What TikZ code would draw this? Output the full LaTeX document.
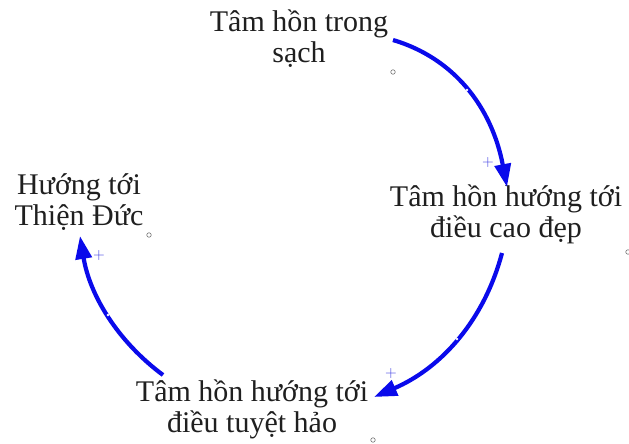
\documentclass[tikz,border=0pt]{standalone}
\usepackage{fontspec}
\setmainfont{Liberation Serif}
\usetikzlibrary{arrows.meta}
\definecolor{loopblue}{RGB}{10,10,235}
\definecolor{plusblue}{RGB}{60,60,225}
\begin{document}
\begin{tikzpicture}[x=1pt,y=-1pt,
  lbl/.style={align=center,anchor=base,inner sep=0pt,font=\fontsize{30}{31}\selectfont,text=black!88},
  link/.style={draw=loopblue,line width=4.2pt,-{Triangle[length=23pt,width=16pt]}},
  pol/.style={text=plusblue,font=\fontsize{16}{16}\selectfont\sffamily,inner sep=0pt},
  handle/.style={circle,draw=black!55,fill=white,line width=0.6pt,inner sep=0pt,minimum size=4.5pt},
  mid/.style={circle,fill=white,inner sep=0pt,minimum size=2.6pt}]
\useasboundingbox (0,0) rectangle (629,444);
\node[lbl] (A) at (299,63) {Tâm hồn trong\\sạch};
\node[lbl] (B) at (506,237) {Tâm hồn hướng tới\\điều cao đẹp};
\node[lbl] (C) at (79,225) {Hướng tới\\Thiện Đức};
\node[lbl] (D) at (252,432) {Tâm hồn hướng tới\\điều tuyệt hảo};
\coordinate (a0) at (393,40);
\coordinate (a1) at (507,187);
\coordinate (b0) at (502,253);
\coordinate (b1) at (374,397);
\coordinate (c0) at (163,375);
\coordinate (c1) at (80,236);
\draw[link] (a0) .. controls (453.7,58) and (491.7,106.7) .. (a1);
\draw[link] (b0) .. controls (484.3,319.7) and (442,367.7) .. (b1);
\draw[link] (c0) .. controls (117.3,341) and (89.7,295) .. (c1);
\node[mid] (m1) at (467,90) {};
\node[mid] (m2) at (457,339) {};
\node[mid] (m3) at (108,315) {};
\node[pol] (p1) at (488,163) {+};
\node[pol] (p2) at (391,374) {+};
\node[pol] (p3) at (99,256) {+};
\node[handle] (h1) at (393,72) {};
\node[handle] (h2) at (149,235) {};
\node[handle] (h3) at (373,440) {};
\node[handle] (h4) at (628,252) {};
\end{tikzpicture}
\end{document}
